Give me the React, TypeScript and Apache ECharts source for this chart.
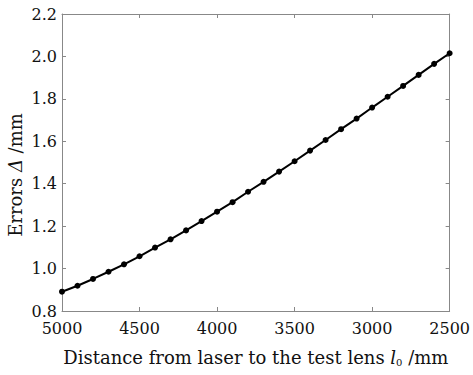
import React, { useEffect, useRef } from "react";
import * as echarts from "echarts";

const distances = [5000, 4900, 4800, 4700, 4600, 4500, 4400, 4300, 4200, 4100, 4000, 3900, 3800, 3700, 3600, 3500, 3400, 3300, 3200, 3100, 3000, 2900, 2800, 2700, 2600, 2500];
const errors = [0.891, 0.919, 0.951, 0.985, 1.020, 1.058, 1.099, 1.138, 1.180, 1.224, 1.268, 1.313, 1.362, 1.409, 1.457, 1.506, 1.556, 1.606, 1.657, 1.707, 1.759, 1.810, 1.861, 1.913, 1.965, 2.015];
const xTitle = "Distance from laser to the test lens {i|l}{sub|0} /mm";
const yTitle = "Errors {i|Δ} /mm";

const FONT = "DejaVu Serif";

export default function App() {
  const ref = useRef<HTMLDivElement>(null);
  useEffect(() => {
    const chart = echarts.init(ref.current!, null, { renderer: "svg" });
    const axisLine = { show: true, lineStyle: { color: "#888", width: 1 } };
    const tick = { show: true, inside: true, length: 4, lineStyle: { color: "#888" } };
    chart.setOption({
      animation: false,
      backgroundColor: "#fff",
      grid: { left: 62, right: 23, top: 14, bottom: 64 },
      graphic: [
        {
          type: "text",
          x: 15,
          y: 175,
          rotation: Math.PI / 2,
          style: {
            text: yTitle,
            fill: "#111",
            font: `18px "${FONT}"`,
            align: "center",
            verticalAlign: "middle",
            rich: {
              i: { fontFamily: FONT, fontStyle: "italic", fontSize: 18, fill: "#111" },
            },
          },
        },
      ],
      xAxis: [
        {
          type: "value",
          inverse: true,
          min: 2500,
          max: 5000,
          interval: 500,
          axisLine,
          axisTick: tick,
          splitLine: { show: false },
          axisLabel: { color: "#111", fontFamily: FONT, fontSize: 16, margin: 9, formatter: (v: number) => String(v) },
          name: xTitle,
          nameLocation: "middle",
          nameGap: 36,
          nameTextStyle: {
            color: "#111",
            fontFamily: FONT,
            fontSize: 18,
            rich: {
              i: { fontFamily: FONT, fontStyle: "italic", fontSize: 18, color: "#111" },
              sub: { fontFamily: FONT, fontSize: 10, color: "#111", verticalAlign: "bottom", padding: [10, 0, 0, 0] },
            },
          },
        },
        {
          type: "value",
          position: "top",
          inverse: true,
          min: 2500,
          max: 5000,
          interval: 500,
          axisLine,
          axisTick: tick,
          axisLabel: { show: false },
          splitLine: { show: false },
        },
      ],
      yAxis: [
        {
          type: "value",
          min: 0.8,
          max: 2.2,
          interval: 0.2,
          axisLine,
          axisTick: tick,
          splitLine: { show: false },
          axisLabel: {
            color: "#111",
            fontFamily: FONT,
            fontSize: 16,
            margin: 5,
            formatter: (v: number) => v.toFixed(1),
          },
        },
        {
          type: "value",
          position: "right",
          min: 0.8,
          max: 2.2,
          interval: 0.2,
          axisLine,
          axisTick: tick,
          axisLabel: { show: false },
          splitLine: { show: false },
        },
      ],
      series: [
        {
          type: "line",
          data: distances.map((d, i) => [d, errors[i]]),
          symbol: "circle",
          symbolSize: 6,
          lineStyle: { color: "#000", width: 2 },
          itemStyle: { color: "#000" },
        },
      ],
    });
    return () => chart.dispose();
  }, []);
  return <div ref={ref} style={{ position: "fixed", left: 0, top: 0, width: 473, height: 375 }} />;
}
